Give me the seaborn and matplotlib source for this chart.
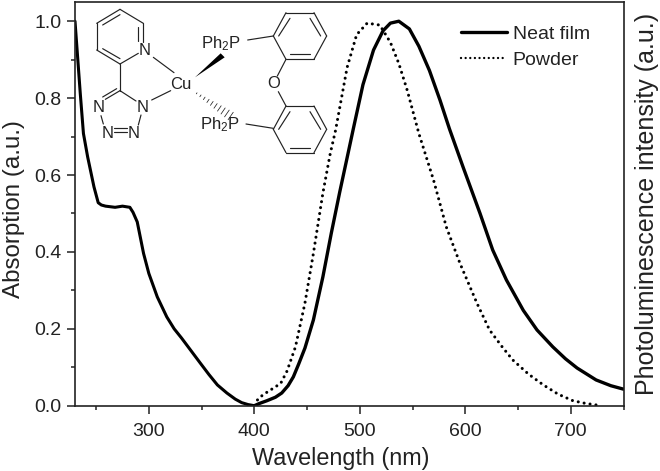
import matplotlib
matplotlib.use("Agg")
import matplotlib.pyplot as plt
from matplotlib.patches import Polygon
from matplotlib.ticker import MultipleLocator
import pandas as pd
import seaborn as sns

abs_nm = [230, 232, 235, 238, 242, 248, 252, 255, 259, 268, 275, 282, 285, 289, 295, 300, 308, 317, 324, 331, 340, 349, 357, 365, 374, 382, 388, 394, 400]
abs_val = [1.0, 0.925, 0.812, 0.708, 0.647, 0.569, 0.528, 0.522, 0.519, 0.516, 0.519, 0.516, 0.503, 0.478, 0.396, 0.344, 0.283, 0.231, 0.2, 0.176, 0.143, 0.11, 0.081, 0.054, 0.033, 0.017, 0.008, 0.003, 0.0]

film_nm = [400, 405, 412, 420, 426, 432, 437, 442, 448, 456, 465, 473, 481, 489, 494, 503, 513, 522, 529, 537, 547, 556, 566, 576, 585, 598, 614, 626, 639, 655, 668, 683, 695, 706, 724, 738, 750]
film_val = [0.0, 0.006, 0.013, 0.022, 0.033, 0.052, 0.075, 0.108, 0.15, 0.223, 0.335, 0.449, 0.556, 0.658, 0.722, 0.835, 0.925, 0.975, 0.995, 1.0, 0.98, 0.935, 0.872, 0.795, 0.72, 0.62, 0.5, 0.405, 0.327, 0.248, 0.197, 0.153, 0.122, 0.098, 0.067, 0.052, 0.043]

powder_nm = [403, 408, 416, 425, 431, 439, 448, 456, 465, 472, 477, 488, 497, 507, 519, 529, 537, 545, 556, 570, 582, 595, 611, 623, 635, 645, 660, 674, 688, 702, 714, 724, 728]
powder_val = [0.015, 0.028, 0.042, 0.058, 0.09, 0.153, 0.267, 0.396, 0.553, 0.656, 0.716, 0.88, 0.965, 0.995, 0.99, 0.945, 0.89, 0.82, 0.708, 0.586, 0.465, 0.37, 0.267, 0.197, 0.153, 0.119, 0.082, 0.054, 0.03, 0.013, 0.006, 0.002, 0.0]

# skeleton of the inset molecule, in 3x crop pixels of the top left region
bonds = [
    (180, 28, 250, 70), (250, 70, 250, 125), (180, 28, 110, 70), (110, 70, 110, 150),
    (110, 150, 180, 192), (180, 192, 235, 160), (235, 82, 235, 122), (128, 75, 180, 44),
    (128, 146, 180, 176), (180, 192, 180, 272), (180, 272, 228, 303), (180, 272, 136, 298),
    (170, 266, 128, 291), (243, 345, 235, 375), (123, 347, 130, 372), (163, 385, 200, 385),
    (163, 397, 200, 397), (280, 172, 342, 218), (275, 300, 332, 272), (563, 120, 640, 108),
    (558, 372, 640, 385), (678, 178, 652, 228), (655, 275, 678, 318),
    (678, 38, 762, 38), (762, 38, 800, 108), (800, 108, 762, 178), (762, 178, 678, 178),
    (678, 178, 640, 108), (640, 108, 678, 38), (690, 55, 656, 108), (750, 55, 782, 108),
    (690, 163, 750, 163),
    (678, 318, 762, 318), (762, 318, 800, 388), (800, 388, 762, 458), (762, 458, 678, 458),
    (678, 458, 640, 388), (640, 388, 678, 318), (690, 335, 656, 388), (750, 335, 782, 388),
    (690, 443, 750, 443),
]
atoms = [
    ("N", 253, 152), ("N", 248, 322), ("N", 117, 322), ("N", 143, 400), ("N", 222, 400),
    ("Cu", 362, 254), ("O", 640, 252),
]

sns.set_theme(style="ticks")
plt.rcParams["font.family"] = ["Liberation Sans", "DejaVu Sans"]
plt.rcParams["mathtext.fontset"] = "custom"
plt.rcParams["mathtext.rm"] = "Liberation Sans"

fig = plt.figure(figsize=(6.6, 4.71), dpi=100, facecolor="white")
ax = fig.add_axes([75 / 660, 1 - 405.7 / 471, 548.5 / 660, 403.7 / 471])

sns.lineplot(data=pd.DataFrame({"nm": abs_nm, "v": abs_val}), x="nm", y="v", ax=ax,
             color="black", lw=2.2, errorbar=None)
sns.lineplot(data=pd.DataFrame({"nm": film_nm, "v": film_val}), x="nm", y="v", ax=ax,
             color="black", lw=2.4, errorbar=None, label="Neat film")
sns.lineplot(data=pd.DataFrame({"nm": powder_nm, "v": powder_val}), x="nm", y="v", ax=ax,
             color="black", lw=2.2, ls=(0, (0.01, 1.95)), dash_capstyle="round",
             errorbar=None, label="Powder")

ax.set_xlim(230, 750)
ax.set_ylim(0, 1.05)
ax.xaxis.set_major_locator(MultipleLocator(100))
ax.xaxis.set_minor_locator(MultipleLocator(50))
ax.yaxis.set_major_locator(MultipleLocator(0.2))
ax.yaxis.set_minor_locator(MultipleLocator(0.1))
ax.tick_params(which="major", length=6, width=1.1, labelsize=14, color="#222222", labelcolor="#222222")
ax.tick_params(axis="x", which="major", pad=6.5)
ax.tick_params(which="minor", length=3, width=1.1, color="#222222")
for s in ax.spines.values():
    s.set_visible(True)
    s.set_linewidth(1.2)
    s.set_color("#222222")

ax.set_xlabel("Wavelength (nm)", fontsize=16.8, color="#222222")
ax.xaxis.set_label_coords(0.485, -0.102)
ax.set_ylabel("Absorption (a.u.)", fontsize=17.4, color="#222222")
ax.yaxis.set_label_coords(-0.092, 0.487)
fig.text(647 / 660, 1 - 204 / 471, "Photoluminescence intensity (a.u.)", rotation=90,
         ha="center", va="center", fontsize=18, color="#222222")

leg = ax.legend(loc="upper left", bbox_to_anchor=(0.703, 0.943), frameon=False, fontsize=14,
                handlelength=2.37, handletextpad=0.3, labelspacing=0.45, borderpad=0, borderaxespad=0)
for t in leg.get_texts():
    t.set_color("#222222")
leg.get_lines()[1].set_linewidth(1.7)

# molecule overlay, same coordinates as the crop
ov = fig.add_axes([0, 0, 1, 1], facecolor="none")
ov.set_xlim(-180, 1800)
ov.set_ylim(1413, 0)
ov.axis("off")
for x0, y0, x1, y1 in bonds:
    ov.plot([x0, x1], [y0, y1], color="#222222", lw=0.85, solid_capstyle="round")
ov.add_patch(Polygon([(405, 232), (482, 160), (494, 172)], closed=True, color="black", lw=0))
for i in range(10):
    t = i / 9
    mx, my = 410 + 102 * t, 280 + 68 * t
    h = 2 + 12 * t
    ov.plot([mx - h * 0.55, mx + h * 0.55], [my + h * 0.8, my - h * 0.8], color="#222222", lw=0.55)
for name, x, y in atoms:
    ov.text(x, y, name, ha="center", va="center", fontsize=12, color="#222222")
ov.text(482, 132, r"$\mathrm{Ph_2P}$", ha="center", va="center", fontsize=12, color="#222222")
ov.text(480, 374, r"$\mathrm{Ph_2P}$", ha="center", va="center", fontsize=12, color="#222222")

fig.savefig("out.png", dpi=100)
